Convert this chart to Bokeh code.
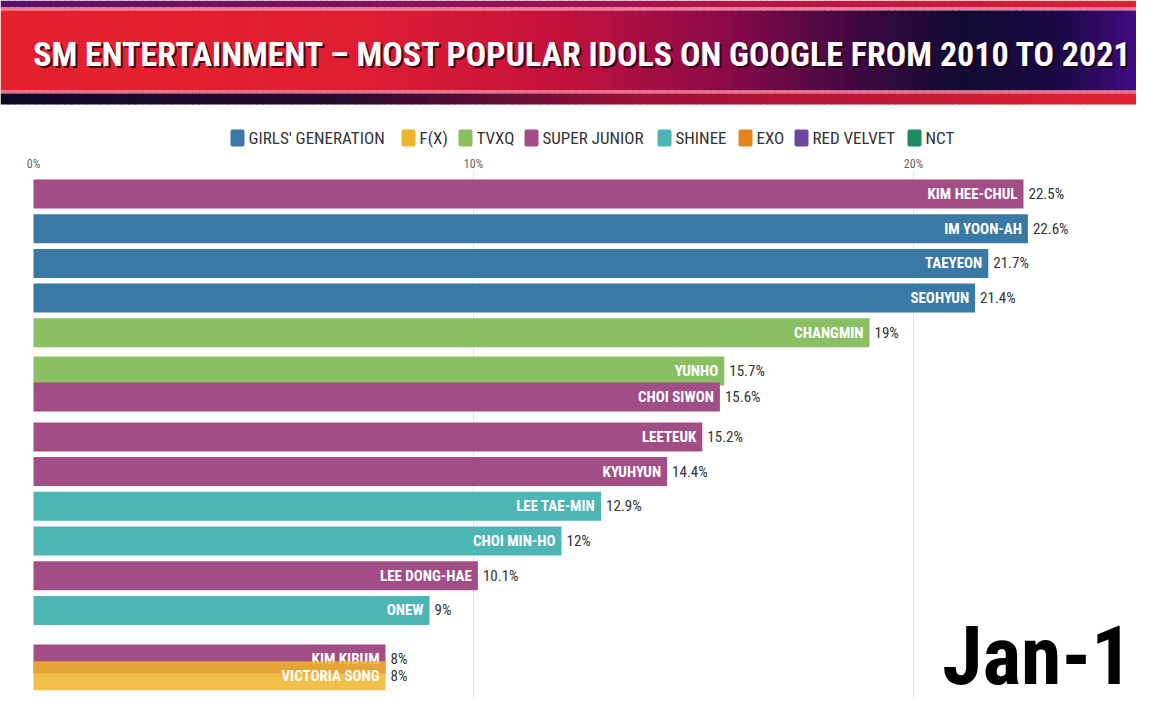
import numpy as np
from bokeh.plotting import figure
from bokeh.models import Range1d
from bokeh.core.properties import value
from bokeh.embed import file_html
from bokeh.resources import INLINE

# ---------------- data ----------------
title_text = "SM ENTERTAINMENT \u2013 MOST POPULAR IDOLS ON GOOGLE FROM 2010 TO 2021"
date_label = "Jan-1"

legend_groups = ["GIRLS' GENERATION", "F(X)", "TVXQ", "SUPER JUNIOR", "SHINEE", "EXO", "RED VELVET", "NCT"]
legend_colors = ["#3a78a6", "#f0b42a", "#8bbf63", "#a24e86", "#4db5b4", "#e2861c", "#6a46a0", "#1f8a5e"]

names = ["KIM HEE-CHUL", "IM YOON-AH", "TAEYEON", "SEOHYUN", "CHANGMIN", "YUNHO", "CHOI SIWON",
         "LEETEUK", "KYUHYUN", "LEE TAE-MIN", "CHOI MIN-HO", "LEE DONG-HAE", "ONEW", "KIM KIBUM",
         "VICTORIA SONG"]
groups = ["SUPER JUNIOR", "GIRLS' GENERATION", "GIRLS' GENERATION", "GIRLS' GENERATION", "TVXQ", "TVXQ",
          "SUPER JUNIOR", "SUPER JUNIOR", "SUPER JUNIOR", "SHINEE", "SHINEE", "SUPER JUNIOR", "SHINEE",
          "SUPER JUNIOR", "F(X)"]
values = [22.5, 22.6, 21.7, 21.4, 19, 15.7, 15.6, 15.2, 14.4, 12.9, 12, 10.1, 9, 8, 8]
ranks = [0, 1, 2, 3, 4, 5.1, 5.85, 7, 8, 9, 10, 11, 12, 13.4, 13.88]   # animated (fractional) ranks
bar_alpha = [1, 1, 1, 1, 1, 1, 1, 1, 1, 1, 1, 1, 1, 1, 0.85]

ticks = [0, 10, 20]
tick_labels = ["0%", "10%", "20%"]

# ---------------- layout helpers ----------------
W, H = 1136, 704
PX0, PPU = 33.0, 44.0     # x pixel of 0 %, pixels per percent
PY0, PPR = 193.5, 34.7    # y pixel of rank 0, pixels per rank


def DX(px):
    return (px - PX0) / PPU


def DY(py):
    return (py - PY0) / PPR


NARROW = "Liberation Sans Narrow, Roboto Condensed, DejaVu Sans Condensed, Roboto, sans-serif"

p = figure(width=W, height=H, output_backend="svg", toolbar_location=None,
           x_range=Range1d(DX(0), DX(W)), y_range=Range1d(DY(H), DY(0)),
           min_border=0, min_border_left=0, min_border_right=0, min_border_top=0, min_border_bottom=0)
p.axis.visible = False
p.grid.visible = False
p.outline_line_color = None
p.background_fill_color = "white"
p.border_fill_color = "white"

# ---------------- banner (gradient) ----------------
def hexrgb(h):
    h = h.lstrip("#")
    return np.array([int(h[i:i + 2], 16) for i in (0, 2, 4)], dtype=float)


def gradient(y_top, y_bot, stops, n=160):
    xs = np.linspace(0, W, n + 1)
    sx = [s[0] for s in stops]
    cols = np.array([hexrgb(s[1]) for s in stops])
    lefts, rights, colors = [], [], []
    for i in range(n):
        xm = 0.5 * (xs[i] + xs[i + 1])
        rgb = [np.interp(xm, sx, cols[:, k]) for k in range(3)]
        colors.append("#%02x%02x%02x" % tuple(int(round(c)) for c in rgb))
        lefts.append(DX(xs[i]))
        rights.append(DX(xs[i + 1] + 0.8))
    p.quad(left=lefts, right=rights, top=DY(y_top), bottom=DY(y_bot), fill_color=colors, line_color=None)


gradient(0, 7, [(0, "#5a1068"), (600, "#a01050"), (1152, "#e02030")])
p.quad(left=DX(0), right=DX(W), top=DY(7), bottom=DY(10), fill_color="#f07a9a", line_color=None)
gradient(10, 90, [(0, "#e4222e"), (350, "#e01e32"), (560, "#c4123c"), (720, "#8c0a48"),
                  (860, "#3c0842"), (960, "#100a32"), (1060, "#1c0848"), (1152, "#4a0c8a")])
p.quad(left=DX(0), right=DX(W), top=DY(90), bottom=DY(93), fill_color="#f06a8a", line_color=None)
gradient(93, 104, [(0, "#0c0826"), (350, "#2a0a30"), (650, "#a01038"), (1152, "#e42230")])

# title text with shadow
TX, TY, TS = DX(1133), DY(53), "34px"
p.text(x=[TX], y=[TY], text=[title_text], text_align="right", text_baseline="middle",
       x_offset=2, y_offset=2, text_color="#1a0010", text_alpha=0.8,
       text_font=value(NARROW), text_font_style="bold", text_font_size=TS)
p.text(x=[TX], y=[TY], text=[title_text], text_align="right", text_baseline="middle",
       text_color="white", text_font=value(NARROW), text_font_style="bold", text_font_size=TS)

# ---------------- legend ----------------
legend_text_x = [248, 419, 476, 542, 675, 756, 812, 925]
for lx, lab, col in zip(legend_text_x, legend_groups, legend_colors):
    p.rect(x=[DX(lx - 11)], y=[DY(137.5)], width=10 / PPU, height=13 / PPR,
           fill_color=col, line_color=col, line_width=4, line_join="round")
    p.text(x=[DX(lx)], y=[DY(137.5)], text=[lab], text_align="left", text_baseline="middle",
           text_color="#333333", text_font=value(NARROW), text_font_size="17px")

# ---------------- grid & ticks ----------------
p.segment(x0=ticks[1:], y0=DY(170), x1=ticks[1:], y1=DY(698), line_color="#e6e6e6", line_width=1)
p.text(x=ticks, y=DY(163), text=tick_labels, text_align="center", text_baseline="middle",
       text_color="#666666", text_font=value(NARROW), text_font_size="12px")

# ---------------- bars ----------------
color_of = dict(zip(legend_groups, legend_colors))
for nm, g, v, r, a in zip(names, groups, values, ranks, bar_alpha):
    c = color_of[g]
    p.hbar(y=[r], left=0, right=[v], height=29 / PPR, fill_color=c, fill_alpha=a, line_color=None)
    p.text(x=[v], y=[r], text=[nm], text_align="right", text_baseline="middle", x_offset=-6,
           text_color="white", text_font=value(NARROW), text_font_style="bold", text_font_size="15px")
    p.text(x=[v], y=[r], text=["%g%%" % v], text_align="left", text_baseline="middle", x_offset=5,
           text_color="#333333", text_font=value(NARROW), text_font_size="15px")

# ---------------- date ----------------
p.text(x=[DX(1132)], y=[DY(655)], text=[date_label], text_align="right", text_baseline="middle",
       text_color="black", text_font=value(NARROW), text_font_style="bold", text_font_size="82px")

open("out.html", "w").write(file_html(p, INLINE))
